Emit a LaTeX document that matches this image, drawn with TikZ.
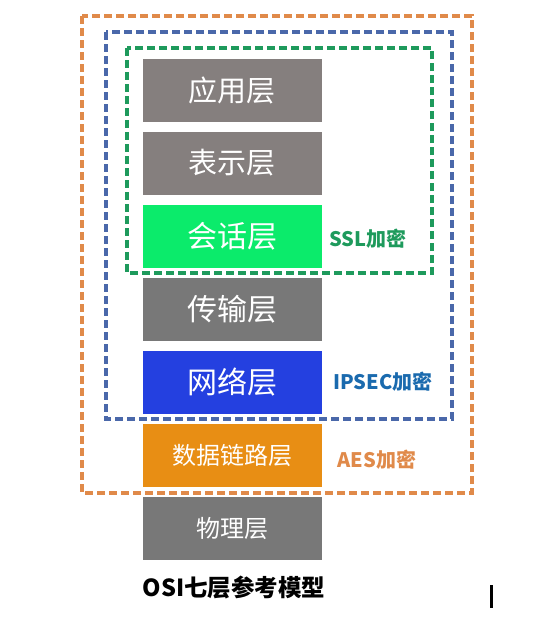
\documentclass[tikz,border=0pt]{standalone}
\usepackage{fontspec}
\newfontfamily\cjk{Noto Sans CJK SC}
\definecolor{appgray}{HTML}{857F7E}
\definecolor{midgray}{HTML}{787878}
\definecolor{sessgreen}{HTML}{0BEB6B}
\definecolor{netblue}{HTML}{2440E0}
\definecolor{linkorange}{HTML}{E88E14}
\definecolor{aesline}{HTML}{E08A4A}
\definecolor{ipsecline}{HTML}{4A68AA}
\definecolor{sslline}{HTML}{1E9A5C}
\definecolor{ipsectext}{HTML}{1A6AAE}
\tikzset{
  layer/.style={minimum width=179pt, minimum height=63pt, inner sep=0pt, text=white},
  encbox/.style={line width=3.2pt, dash pattern=on 8pt off 4pt},
  enclabel/.style={font=\cjk\bfseries\fontsize{20}{20}\selectfont, inner sep=0pt}
}
\begin{document}
\begin{tikzpicture}[x=1pt,y=-1pt]
  \useasboundingbox (0,0) rectangle (549,622);
  % encryption ranges
  \draw[encbox, aesline] (82,16) rectangle (472,493);
  \draw[encbox, ipsecline] (106,32) rectangle (452,419);
  \draw[encbox, sslline] (127,48) rectangle (432,273);
  % seven layers
  \foreach \i/\nm/\col/\txt/\sz in {1/app/appgray/应用层/29, 2/pres/appgray/表示层/29,
      3/sess/sessgreen/会话层/30, 4/trans/midgray/传输层/30, 5/net/netblue/网络层/30,
      6/link/linkorange/数据链路层/24, 7/phys/midgray/物理层/24}{
    \node[layer, fill=\col, font=\cjk\fontsize{\sz}{\sz}\selectfont] (\nm) at (232, 90 + 73 * \i - 73) {\txt};
  }
  \node[enclabel, text=sslline] (ssl) at (368,239) {SSL加密};
  \node[enclabel, text=ipsectext] (ipsec) at (383,382) {IPSEC加密};
  \node[enclabel, text=aesline] (aes) at (377,460) {AES加密};
  \node[font=\cjk\bfseries\fontsize{23.5}{23.5}\selectfont, inner sep=0pt] (title) at (234,588) {OSI七层参考模型};
  \draw[line width=3pt] (491,585) -- (491,608);
\end{tikzpicture}
\end{document}
